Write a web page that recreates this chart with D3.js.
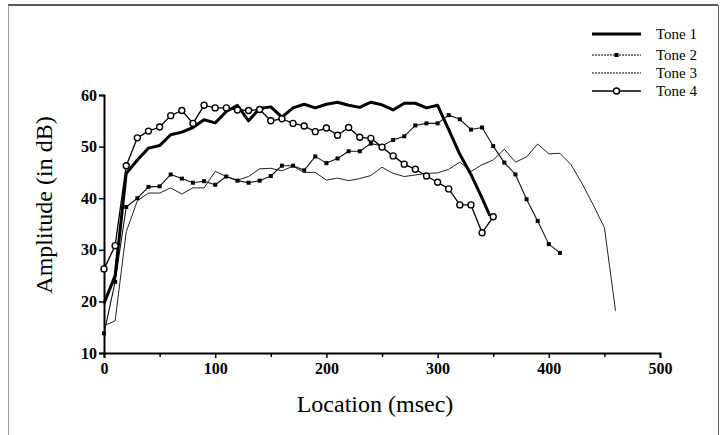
<!DOCTYPE html>
<html>
<head>
<meta charset="utf-8">
<script src="https://cdn.jsdelivr.net/npm/d3@7"></script>
<style>
  html, body { margin: 0; padding: 0; background: #fff; }
  svg { display: block; }
</style>
</head>
<body>
<svg id="chart" width="722" height="435"></svg>
<script>
// ---- data ----
const seriesNames = ["Tone 1", "Tone 2", "Tone 3", "Tone 4"];

const tone1X = [0,10,20,30,40,50,60,70,80,90,100,110,120,130,140,150,160,170,180,190,200,210,220,230,240,250,260,270,280,290,300,310,320,330,340,347];
const tone1Y = [19.6,25,44.8,47.4,49.7,50.2,52.3,52.8,53.7,55.2,54.6,56.8,58,55,57.4,57.7,55.7,57.5,58.2,57.5,58.2,58.6,58,57.6,58.6,58.1,57.1,58.4,58.4,57.5,58,53.3,48.5,44.6,40,36.6];

const tone2X = [0,10,20,30,40,50,60,70,80,90,100,110,120,130,140,150,160,170,180,190,200,210,220,230,240,250,260,270,280,290,300,310,320,330,340,350,360,370,380,390,400,410];
const tone2Y = [13.8,23.8,38.3,40,42.2,42.3,44.6,43.8,43,43.3,42.6,44.2,43.4,43,43.4,44.3,46.3,46.3,45.4,48.1,46.8,47.7,49.1,49.1,50.6,50.1,51.3,52,54.1,54.5,54.5,56.1,55.3,53.3,53.7,50.1,46.9,44.6,39.8,35.6,31.1,29.4];

const tone3X = [0,10,20,30,40,50,60,70,80,90,100,110,120,130,140,150,160,170,180,190,200,210,220,230,240,250,260,270,280,290,300,310,320,330,340,350,360,370,380,390,400,410,420,430,440,450,460];
const tone3Y = [15.3,16.2,33.5,39.5,41,41,42,40.8,42,42,45.2,44.2,43.5,44.2,45.7,45.8,45.3,46.2,45,45,43.5,43.9,43.4,43.8,44.4,46,44.8,44.2,44.5,44.8,44.9,45.6,47,45.2,46.5,47.4,49.5,47,48,50.5,48.6,48.7,46.5,42.8,38.7,34.3,18.2];

const tone4X = [0,10,20,30,40,50,60,70,80,90,100,110,120,130,140,150,160,170,180,190,200,210,220,230,240,250,260,270,280,290,300,310,320,330,340,350];
const tone4Y = [26.3,30.8,46.3,51.7,53,53.8,56,57,54.5,58,57.5,57.5,57.1,57,57.2,55,55.4,54.5,54,52.9,53.6,52.2,53.7,51.8,51.6,49.9,48.2,46.6,45.6,44.3,43.1,41.8,38.7,38.7,33.3,36.4];

const xTicks = [0,100,200,300,400,500];
const xMinorTicks = [50,150,250,350,450];
const yTicks = [10,20,30,40,50,60];

// ---- layout ----
const svg = d3.select("#chart");
const FONT = "'Liberation Serif', 'Times New Roman', serif";
const plotLeft = 104, plotRight = 660, plotTop = 95, plotBottom = 353;

const x = d3.scaleLinear().domain([0, 500]).range([plotLeft, plotRight]);
const y = d3.scaleLinear().domain([10, 60]).range([plotBottom, plotTop]);

// frame of the scanned figure
svg.append("line").attr("x1", 8).attr("x2", 718).attr("y1", 5).attr("y2", 5)
  .attr("stroke", "#222").attr("stroke-width", 1.5);
svg.append("line").attr("x1", 8.5).attr("x2", 8.5).attr("y1", 5).attr("y2", 435)
  .attr("stroke", "#999").attr("stroke-width", 1);
svg.append("line").attr("x1", 718.5).attr("x2", 718.5).attr("y1", 5).attr("y2", 435)
  .attr("stroke", "#666").attr("stroke-width", 1);

// axes
const xAxis = d3.axisBottom(x).tickValues(xTicks).tickSize(5).tickPadding(5).tickFormat(d3.format("d"));
const gx = svg.append("g").attr("transform", `translate(0,${plotBottom})`).call(xAxis);
gx.select(".domain").attr("stroke", "#000").attr("stroke-width", 2);
gx.selectAll(".tick line").attr("stroke", "#000").attr("stroke-width", 1.5);
gx.selectAll(".tick text").attr("font-family", FONT).attr("font-size", 16)
  .attr("font-weight", "bold").attr("fill", "#000");

const xMinor = d3.axisBottom(x).tickValues(xMinorTicks).tickSize(4).tickFormat("");
const gxm = svg.append("g").attr("transform", `translate(0,${plotBottom})`).call(xMinor);
gxm.select(".domain").remove();
gxm.selectAll(".tick line").attr("stroke", "#000").attr("stroke-width", 1.5);

const yAxis = d3.axisLeft(y).tickValues(yTicks).tickSize(5).tickPadding(2).tickFormat(d3.format("d"));
const gy = svg.append("g").attr("transform", `translate(${plotLeft},0)`).call(yAxis);
gy.select(".domain").attr("stroke", "#000").attr("stroke-width", 2);
gy.selectAll(".tick line").attr("stroke", "#000").attr("stroke-width", 1.5);
gy.selectAll(".tick text").attr("font-family", FONT).attr("font-size", 16)
  .attr("font-weight", "bold").attr("fill", "#000");

// axis titles
svg.append("text")
  .attr("transform", `translate(52,205) rotate(-90)`)
  .attr("text-anchor", "middle")
  .attr("font-family", FONT).attr("font-size", 24).attr("fill", "#000")
  .text("Amplitude (in dB)");
svg.append("text")
  .attr("x", 375).attr("y", 412)
  .attr("text-anchor", "middle")
  .attr("font-family", FONT).attr("font-size", 24).attr("fill", "#000")
  .text("Location (msec)");

// series
const zip = (xs, ys) => xs.map((d, i) => [d, ys[i]]);
const line = d3.line().x(d => x(d[0])).y(d => y(d[1]));

const t1 = zip(tone1X, tone1Y), t2 = zip(tone2X, tone2Y), t3 = zip(tone3X, tone3Y), t4 = zip(tone4X, tone4Y);

svg.append("path").datum(t3).attr("d", line).attr("fill", "none")
  .attr("stroke", "#222").attr("stroke-width", 1).attr("stroke-linejoin", "round");
svg.append("path").datum(t2).attr("d", line).attr("fill", "none")
  .attr("stroke", "#111").attr("stroke-width", 1.1).attr("stroke-linejoin", "round");
svg.selectAll(".sq").data(t2).enter().append("rect")
  .attr("x", d => x(d[0]) - 2).attr("y", d => y(d[1]) - 2)
  .attr("width", 4).attr("height", 4).attr("fill", "#000");
svg.append("path").datum(t1).attr("d", line).attr("fill", "none")
  .attr("stroke", "#000").attr("stroke-width", 3).attr("stroke-linejoin", "round");
svg.append("path").datum(t4).attr("d", line).attr("fill", "none")
  .attr("stroke", "#000").attr("stroke-width", 1.3).attr("stroke-linejoin", "round");
svg.selectAll(".circ").data(t4).enter().append("circle")
  .attr("cx", d => x(d[0])).attr("cy", d => y(d[1])).attr("r", 3)
  .attr("fill", "#fff").attr("stroke", "#000").attr("stroke-width", 1.4);

// legend
const legY = [34, 55, 73, 91];
const lx1 = 592, lx2 = 641, ltx = 656;
const lg = svg.append("g");
seriesNames.forEach((name, i) => {
  const yy = legY[i];
  const sw = [3, 1.1, 1, 1.3][i];
  lg.append("line").attr("x1", lx1).attr("x2", lx2).attr("y1", yy).attr("y2", yy)
    .attr("stroke", "#000").attr("stroke-width", sw)
    .attr("stroke-dasharray", i === 1 || i === 2 ? "2,1" : null);
  if (i === 1) lg.append("rect").attr("x", (lx1 + lx2) / 2 - 2).attr("y", yy - 2).attr("width", 4).attr("height", 4).attr("fill", "#000");
  if (i === 3) lg.append("circle").attr("cx", (lx1 + lx2) / 2).attr("cy", yy).attr("r", 3)
    .attr("fill", "#fff").attr("stroke", "#000").attr("stroke-width", 1.4);
  lg.append("text").attr("x", ltx).attr("y", yy + 5)
    .attr("font-family", FONT).attr("font-size", 15).attr("fill", "#000").text(name);
});
</script>
</body>
</html>
